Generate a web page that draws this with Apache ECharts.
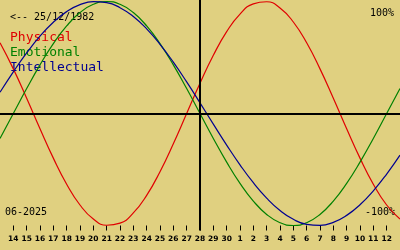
<!DOCTYPE html>
<html>
<head>
<meta charset="utf-8">
<style>
html,body{margin:0;padding:0;background:#e0d080;}
#c{width:400px;height:250px;}
</style>
<script src="https://cdn.jsdelivr.net/npm/echarts@6/dist/echarts.min.js"></script>
</head>
<body>
<div id="c"></div>
<script>
// Days shown (13 June 2025 .. 13 July 2025), centre = 28
var dayLabels = ["13","14","15","16","17","18","19","20","21","22","23","24","25","26","27","28","29","30","1","2","3","4","5","6","7","8","9","10","11","12","13"];
var physical = [0.6311,0.3984,0.1362,-0.1362,-0.3984,-0.6311,-0.8170,-0.9423,-0.9977,-0.9791,-0.8879,-0.7308,-0.5196,-0.2698,0,0.2698,0.5196,0.7308,0.8879,0.9791,0.9977,0.9423,0.8170,0.6311,0.3984,0.1362,-0.1362,-0.3984,-0.6311,-0.8170,-0.9423];
var emotional = [-0.2225,0,0.2225,0.4339,0.6235,0.7818,0.9010,0.9749,1,0.9749,0.9010,0.7818,0.6235,0.4339,0.2225,0,-0.2225,-0.4339,-0.6235,-0.7818,-0.9010,-0.9749,-1,-0.9749,-0.9010,-0.7818,-0.6235,-0.4339,-0.2225,0,0.2225];
var intellectual = [0.1893,0.3717,0.5406,0.6901,0.8146,0.9096,0.9718,0.9989,0.9898,0.9450,0.8660,0.7557,0.6182,0.4582,0.2817,0.0951,-0.0951,-0.2817,-0.4582,-0.6182,-0.7557,-0.8660,-0.9450,-0.9898,-0.9989,-0.9718,-0.9096,-0.8146,-0.6901,-0.5406,-0.3717];
var seriesNames = ["Physical","Emotional","Intellectual"];
var seriesColors = ["#e00000","#008000","#000090"];
var birthText = "<-- 25/12/1982";
var monthText = "06-2025";
var topText = "100%";
var bottomText = "-100%";

var chart = echarts.init(document.getElementById('c'), null, {renderer:'canvas'});
var mono = "DejaVu Sans Mono";
function mk(name, data, color){
  return {name:name, type:'line', data:data, smooth:true, symbol:'none', clip:false,
    lineStyle:{color:color, width:1.2}, itemStyle:{color:color}, silent:true};
}
var s = [mk(seriesNames[0], physical, seriesColors[0]),
         mk(seriesNames[1], emotional, seriesColors[1]),
         mk(seriesNames[2], intellectual, seriesColors[2])];
s[0].markLine = {silent:true, symbol:'none', label:{show:false},
  lineStyle:{color:'#000', width:2, type:'solid'},
  data:[{yAxis:0},{xAxis:15}]};

var legendY = [38.5, 53.5, 68.5];
var graphics = [
  {type:'text', left:10, top:12, style:{text:birthText, fill:'#000', font:'10px "'+mono+'"'}},
  {type:'text', left:5, top:207, style:{text:monthText, fill:'#000', font:'10px "'+mono+'"'}},
  {type:'text', right:6, top:8, style:{text:topText, fill:'#000', font:'10px "'+mono+'"'}},
  {type:'text', right:5, top:207, style:{text:bottomText, fill:'#000', font:'10px "'+mono+'"'}},
  {type:'line', shape:{x1:200, y1:0, x2:200, y2:230.5}, style:{stroke:'#000', lineWidth:2}}
];
for (var i=0;i<3;i++){
  graphics.push({type:'text', left:10, top:legendY[i]-7, style:{text:seriesNames[i], fill:seriesColors[i], font:'13px "'+mono+'"'}});
}

chart.setOption({
  animation:false,
  backgroundColor:'#e0d080',
  grid:{left:0, right:0, top:1.5, height:224},
  xAxis:{type:'category', data:dayLabels, boundaryGap:false,
    axisLine:{show:false, onZero:false},
    axisTick:{show:true, length:5, lineStyle:{color:'#000', width:1},
      interval:function(idx){return idx>0 && idx<dayLabels.length-1;}},
    axisLabel:{show:true, margin:10, color:'#000', fontSize:7.5, fontWeight:'bold', fontFamily:'DejaVu Sans',
      interval:function(idx){return idx>0 && idx<dayLabels.length-1;}},
    splitLine:{show:false}},
  yAxis:{type:'value', min:-1, max:1, show:false, splitLine:{show:false}},
  series:s,
  graphic:graphics
});
</script>
</body>
</html>
